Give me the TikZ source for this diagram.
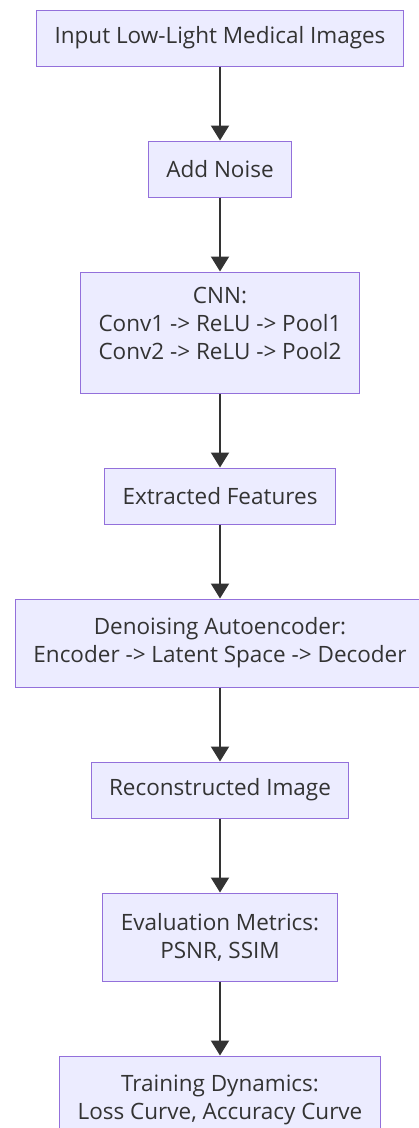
\documentclass[tikz,border=0pt]{standalone}
\usepackage{fontspec}
\setmainfont{Open Sans}
\usetikzlibrary{positioning, arrows.meta}
\definecolor{boxfill}{HTML}{ECECFF}
\definecolor{boxline}{HTML}{9370DB}
\definecolor{ink}{HTML}{333333}

\begin{document}
\begin{tikzpicture}[
                x = 1pt, y = 1pt,
                node distance = 74pt,
                B/.style = {rectangle, draw=boxline, line width=1pt, fill=boxfill,
                            text=ink, align=center, inner xsep=18pt, inner ysep=0pt,
                            minimum height=56pt, font=\fontsize{22.5}{28}\selectfont},
                E/.style = {-{Triangle[width=18pt, length=15pt]}, draw=ink, line width=2pt}
                    ]
                \useasboundingbox (0,0) rectangle (419,-1128);
                \begin{scope}[nodes=B]
                \node (in) at (220,-38) {Input Low-Light Medical Images};
                \node (noise) [below=of in] {Add Noise};
                % strut keeps the three lines a bit above the middle
                \node (cnn) [below=of noise, minimum height=121pt]
                      {CNN:\\ Conv1 -> ReLU -> Pool1\\ Conv2 -> ReLU -> Pool2\rule[-19pt]{0pt}{0pt}};
                \node (feat) [below=of cnn] {Extracted Features};
                \node (dae) [below=of feat, minimum height=88pt]
                      {Denoising Autoencoder:\\ Encoder -> Latent Space -> Decoder};
                \node (rec) [below=of dae] {Reconstructed Image};
                \node (eval) [below=of rec, minimum height=88pt]
                      {Evaluation Metrics:\\ PSNR, SSIM};
                \node (train) [below=of eval, minimum height=88pt]
                      {Training Dynamics:\\ Loss Curve, Accuracy Curve};
                \end{scope}
                \draw[E] (in) to (noise);
                \draw[E] (noise) to (cnn);
                \draw[E] (cnn) to (feat);
                \draw[E] (feat) to (dae);
                \draw[E] (dae) to (rec);
                \draw[E] (rec) to (eval);
                \draw[E] (eval) to (train);
\end{tikzpicture}
\end{document}
